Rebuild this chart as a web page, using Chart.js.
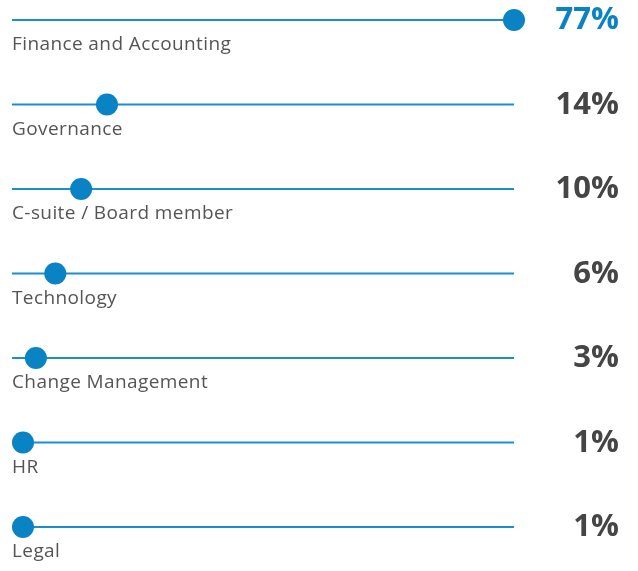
<!DOCTYPE html>
<html>
<head>
<meta charset="utf-8">
<script src="https://cdn.jsdelivr.net/npm/chart.js@4/dist/chart.umd.min.js"></script>
<style>
  html, body { margin: 0; padding: 0; background: #ffffff; }
  #wrap { width: 638px; height: 571px; position: relative; }
</style>
</head>
<body>
<div id="wrap"><canvas id="c" width="638" height="571"></canvas></div>
<script>
const categories = ["Finance and Accounting", "Governance", "C-suite / Board member", "Technology", "Change Management", "HR", "Legal"];
const values = [77, 14, 10, 6, 3, 1, 1];
const valueLabels = ["77%", "14%", "10%", "6%", "3%", "1%", "1%"];

const X_MIN = -0.7, X_MAX = 77;
const LINE_COLOR = "#1a8fd0";
const DOT_COLOR = "#0a83c4";
const LABEL_FONT = '19px "Open Sans"';
const VALUE_FONT = 'bold 31px "Open Sans"';

function build() {
  const datasets = [];
  categories.forEach((c, i) => {
    datasets.push({
      type: 'line',
      data: [{x: X_MIN, y: i}, {x: X_MAX, y: i}],
      borderColor: LINE_COLOR,
      borderWidth: 2,
      pointRadius: 0,
      clip: false,
      order: 2
    });
  });
  datasets.push({
    type: 'scatter',
    data: values.map((v, i) => ({x: v, y: i})),
    backgroundColor: DOT_COLOR,
    borderColor: DOT_COLOR,
    borderWidth: 0,
    pointRadius: 11,
    pointHoverRadius: 11,
    clip: false,
    order: 1
  });

  const textPlugin = {
    id: 'rowText',
    afterDatasetsDraw(chart) {
      const ctx = chart.ctx;
      const xs = chart.scales.x, ys = chart.scales.y;
      ctx.save();
      categories.forEach((c, i) => {
        const y = ys.getPixelForValue(i);
        ctx.font = LABEL_FONT;
        ctx.letterSpacing = '0.4px';
        ctx.fillStyle = '#555555';
        ctx.textAlign = 'left';
        ctx.textBaseline = 'alphabetic';
        ctx.fillText(c, xs.getPixelForValue(X_MIN), y + 30);
        ctx.letterSpacing = '0px';
        ctx.font = VALUE_FONT;
        ctx.fillStyle = i === 0 ? '#0a83c4' : '#454545';
        ctx.textAlign = 'right';
        ctx.fillText(valueLabels[i], chart.width - 19, y + 9);
      });
      ctx.restore();
    }
  };

  new Chart(document.getElementById('c'), {
    data: { datasets },
    options: {
      responsive: false,
      animation: false,
      layout: { padding: { left: 12, right: 124, top: 20, bottom: 44 } },
      plugins: { legend: { display: false }, tooltip: { enabled: false } },
      scales: {
        x: { type: 'linear', min: X_MIN, max: X_MAX, display: false },
        y: { type: 'linear', min: 0, max: 6, reverse: true, display: false }
      }
    },
    plugins: [textPlugin]
  });
}

Promise.all([document.fonts.load(LABEL_FONT), document.fonts.load(VALUE_FONT)])
  .then(build, build);
</script>
</body>
</html>
